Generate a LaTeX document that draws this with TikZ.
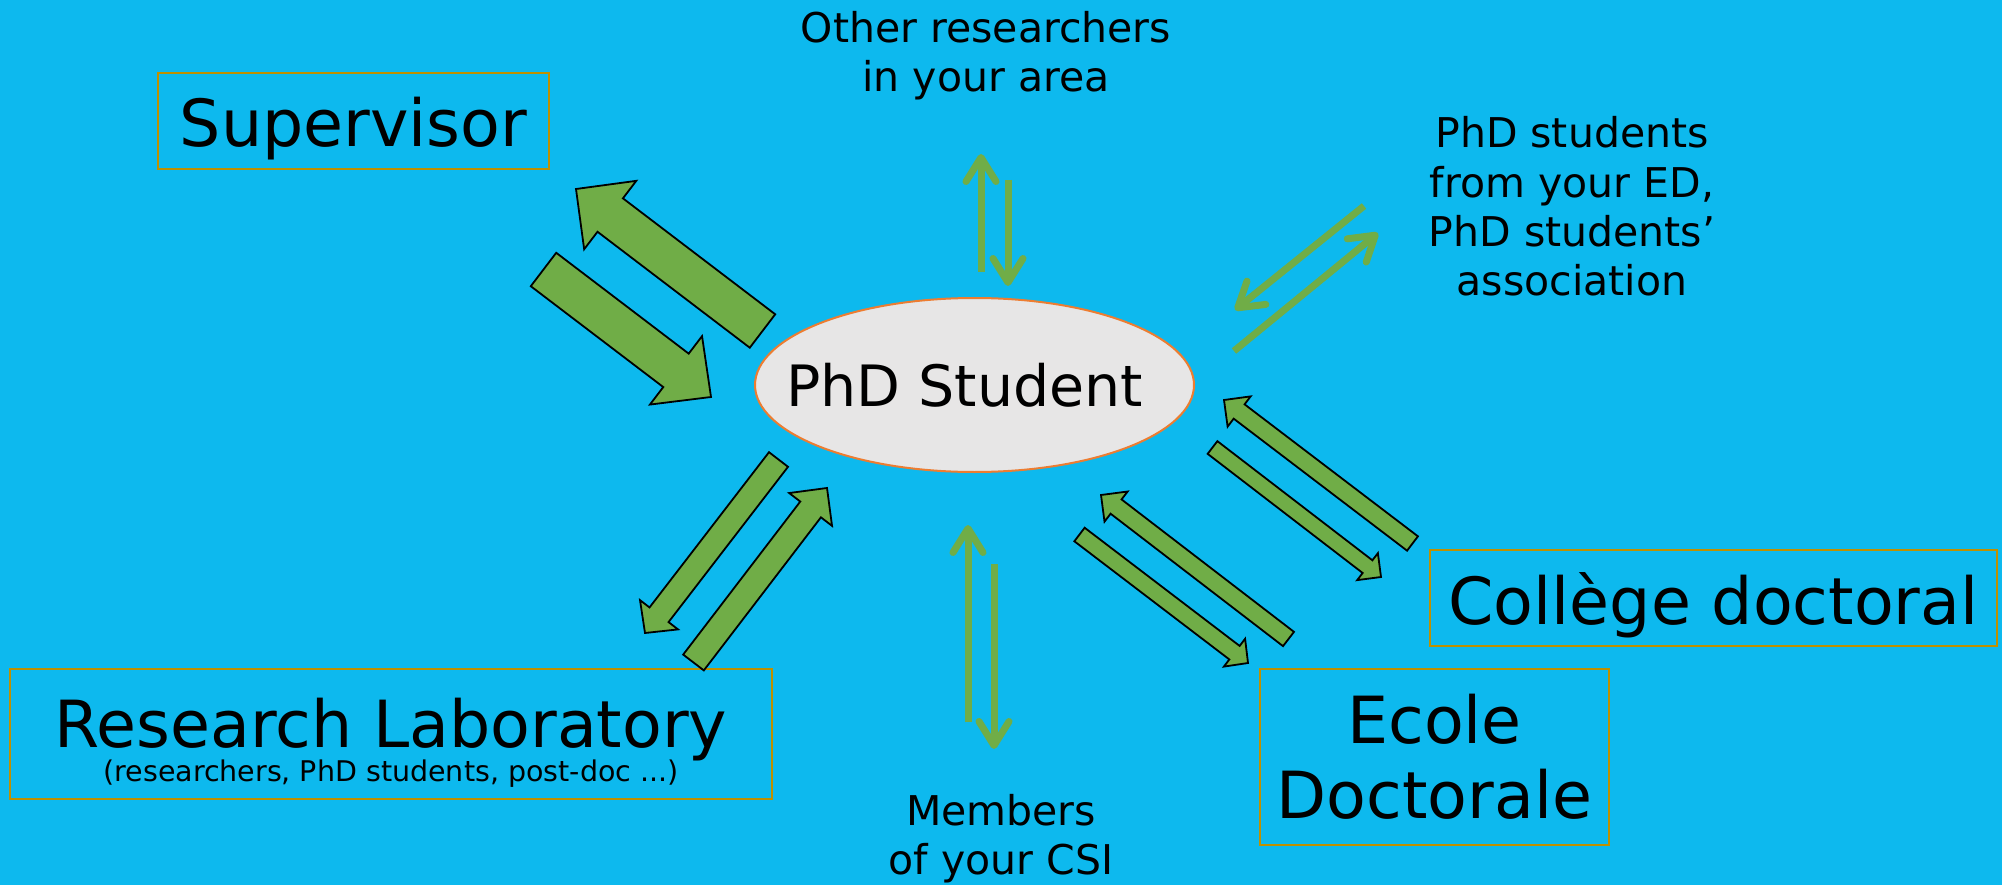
\documentclass[tikz,border=0pt]{standalone}
\usepackage{fontspec}
\setmainfont{DejaVu Sans}
\usepackage{tikz}
\usetikzlibrary{calc,positioning,shapes.geometric,arrows.meta}
\definecolor{bgblue}{RGB}{13,185,238}
\definecolor{arrgreen}{RGB}{112,173,71}
\definecolor{boxgold}{RGB}{191,144,0}
\definecolor{ellgray}{RGB}{231,230,230}
\definecolor{ellorange}{RGB}{237,125,49}
\newcommand{\blockarrow}[5]{%
\coordinate (hb) at ($(#2)!#5!(#1)$);
\draw[blockarr] ($(#1)!#3!90:(#2)$) -- ($(hb)!#3!-90:(#1)$) -- ($(hb)!#4!-90:(#1)$) -- (#2) -- ($(hb)!#4!90:(#1)$) -- ($(hb)!#3!90:(#1)$) -- ($(#1)!#3!-90:(#2)$) -- cycle;}

\begin{document}
\begin{tikzpicture}[x=1pt,y=-1pt,
  bigbox/.style={draw=boxgold,line width=2pt,inner sep=0pt,font=\fontsize{65}{75}\selectfont,align=center},
  smalltext/.style={inner sep=0pt,font=\fontsize{41}{49}\selectfont,align=center},
  blockarr/.style={fill=arrgreen,draw=black,line width=1.8pt,line join=miter},
  thinarr/.style={draw=arrgreen,line width=7pt,-{Straight Barb[round,length=24pt,width=30pt]}}]
\fill[bgblue] (0,0) rectangle (2002,885);
\useasboundingbox (0,0) rectangle (2002,885);
\node[ellipse,fill=ellgray,draw=ellorange,line width=2pt,minimum width=439pt,minimum height=174pt,inner ysep=0pt,inner xsep=-22pt,font=\fontsize{57}{66}\selectfont] (student) at (974.5,385) {\hspace*{-20pt}PhD Student};
\node[bigbox,minimum width=391pt,minimum height=96pt,text height=52pt,text depth=0pt] (supervisor) at (353.5,121) {Supervisor};
\node[bigbox,minimum width=762pt,minimum height=130pt,text height=94pt,text depth=0pt] (lab) at (391,734) {Research Laboratory\\[-41pt]{\fontsize{28.5}{32}\selectfont (researchers, PhD students, post-doc ...)}};
\node[bigbox,minimum width=567pt,minimum height=96pt,text height=52pt,text depth=0pt] (college) at (1713.5,598) {Collège doctoral};
\node[bigbox,minimum width=349pt,minimum height=176pt] (ecole) at (1434.5,757) {Ecole\\Doctorale};
\node[smalltext,anchor=base] (others) at (986,92) {Other researchers\\in your area};
\node[smalltext,anchor=base] (peers) at (1572,295) {PhD students\\from your ED,\\PhD students’\\association};
\node[smalltext,anchor=base] (csi) at (1001,874) {Members\\of your CSI};
\coordinate (supA) at (762.5,331); \coordinate (supB) at (576,189);
\coordinate (supC) at (543.5,269.5); \coordinate (supD) at (711,397);
\coordinate (labA) at (778.5,459.5); \coordinate (labB) at (645,633);
\coordinate (labC) at (693.5,662.5); \coordinate (labD) at (827,488);
\coordinate (ecA) at (1288.5,639); \coordinate (ecB) at (1101,495);
\coordinate (ecC) at (1079.5,534.5); \coordinate (ecD) at (1248,663);
\coordinate (coA) at (1412.5,543.5); \coordinate (coB) at (1224,400);
\coordinate (coC) at (1212.5,447.5); \coordinate (coD) at (1381,577);
\blockarrow{supA}{supB}{21pt}{43pt}{43pt}
\blockarrow{supC}{supD}{21pt}{43pt}{44pt}
\blockarrow{labA}{labB}{12pt}{24pt}{23pt}
\blockarrow{labC}{labD}{13pt}{27pt}{27pt}
\blockarrow{ecA}{ecB}{9pt}{19pt}{19pt}
\blockarrow{ecC}{ecD}{8.5pt}{17.5pt}{17pt}
\blockarrow{coA}{coB}{9pt}{19pt}{19pt}
\blockarrow{coC}{coD}{8pt}{17pt}{17pt}
\coordinate (othA) at (981,272); \coordinate (othB) at (981,154);
\coordinate (othC) at (1008,180); \coordinate (othD) at (1008,286);
\coordinate (csiA) at (968,722); \coordinate (csiB) at (968,525);
\coordinate (csiC) at (994,564); \coordinate (csiD) at (994,749);
\coordinate (peA) at (1364,206); \coordinate (peB) at (1235,310);
\coordinate (peC) at (1234,351); \coordinate (peD) at (1378,233);
\draw[thinarr] (othA) -- (othB);
\draw[thinarr] (othC) -- (othD);
\draw[thinarr] (csiA) -- (csiB);
\draw[thinarr] (csiC) -- (csiD);
\draw[thinarr] (peA) -- (peB);
\draw[thinarr] (peC) -- (peD);
\end{tikzpicture}
\end{document}
